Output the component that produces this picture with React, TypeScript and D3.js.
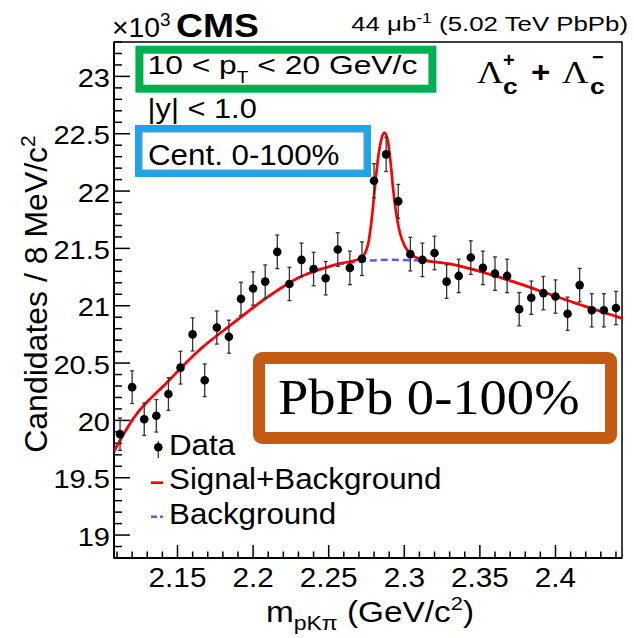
import React from "react";
import * as d3 from "d3";

// bin centres (GeV/c^2), 8 MeV bins
const massBins = [
  2.112, 2.12, 2.128, 2.136, 2.144, 2.152, 2.16, 2.168, 2.176, 2.184,
  2.192, 2.2, 2.208, 2.216, 2.224, 2.232, 2.24, 2.248, 2.256, 2.264,
  2.272, 2.28, 2.288, 2.296, 2.304, 2.312, 2.32, 2.328, 2.336, 2.344,
  2.352, 2.36, 2.368, 2.376, 2.384, 2.392, 2.4, 2.408, 2.416, 2.424,
  2.432, 2.44,
];
// candidates per bin, x10^3
const candidates = [
  19.88, 20.29, 20.01, 20.04, 20.23, 20.46, 20.75, 20.35, 20.81, 20.73,
  21.06, 21.15, 21.21, 21.47, 21.19, 21.4, 21.32, 21.24, 21.49, 21.33,
  21.41, 22.09, 22.32, 21.91, 21.45, 21.4, 21.46, 21.21, 21.26, 21.42,
  21.33, 21.28, 21.26, 20.97, 21.07, 21.11, 21.08, 20.93, 21.18, 20.96,
  20.96, 20.98,
];

// fit curves
const sbMass = [
  2.108, 2.121, 2.143, 2.165, 2.187, 2.209, 2.231, 2.25, 2.2575, 2.2645,
  2.2707, 2.274, 2.2762, 2.2784, 2.2806, 2.2828, 2.285, 2.2868, 2.289, 2.291,
  2.2927, 2.295, 2.2972, 2.3005, 2.3049, 2.3126, 2.33, 2.35, 2.372, 2.394,
  2.416, 2.444,
];
const sbFit = [
  19.73, 20.02, 20.33, 20.62, 20.85, 21.07, 21.25, 21.34, 21.37, 21.385,
  21.414, 21.457, 21.544, 21.748, 22.038, 22.3, 22.46, 22.509, 22.445, 22.242,
  22.009, 21.776, 21.632, 21.515, 21.442, 21.4, 21.365, 21.3, 21.21, 21.11,
  21.01, 20.89,
];
const bgMass = [
  2.108, 2.121, 2.143, 2.165, 2.187, 2.209, 2.231, 2.25, 2.27, 2.29,
  2.31, 2.33, 2.35, 2.372, 2.394, 2.416, 2.444,
];
const bgFit = [
  19.73, 20.02, 20.33, 20.62, 20.85, 21.07, 21.25, 21.34, 21.385, 21.4,
  21.395, 21.365, 21.3, 21.21, 21.11, 21.01, 20.89,
];

const xTicks = [2.15, 2.2, 2.25, 2.3, 2.35, 2.4];
const yTicks = [19, 19.5, 20, 20.5, 21, 21.5, 22, 22.5, 23];

const W = 634;
const H = 638;
const left = 114;
const right = 622;
const top = 42;
const bottom = 558;
const font = "'Liberation Sans', Arial, Helvetica, sans-serif";
const serif = "'Liberation Serif', 'DejaVu Serif', serif";

// text stretched horizontally like the original canvas
const T = ({ x, y, size, sx = 1, anchor = "start", weight, family, children }: any) => (
  <g transform={`translate(${x},${y}) scale(${sx},1)`}>
    <text x={0} y={0} fontSize={size} textAnchor={anchor} fontWeight={weight} fontFamily={family}>
      {children}
    </text>
  </g>
);

const App = () => {
  const x = d3.scaleLinear().domain([2.108, 2.444]).range([left, right]);
  const y = d3.scaleLinear().domain([18.8, 23.3]).range([bottom, top]);

  const xMinor = d3.range(2.11, 2.4441, 0.01).filter(
    (v) => !xTicks.some((t) => Math.abs(t - v) < 1e-6)
  );
  const yMinor = d3.range(18.9, 23.3, 0.1).filter(
    (v) => !yTicks.some((t) => Math.abs(t - v) < 1e-6)
  );

  const line = d3
    .line<[number, number]>()
    .x((d) => x(d[0]))
    .y((d) => y(d[1]))
    .curve(d3.curveMonotoneX);

  const sbPath = line(sbMass.map((m, i) => [m, sbFit[i]]));
  const bgPath = line(bgMass.map((m, i) => [m, bgFit[i]]));
  const fmt = d3.format("~g");

  const points = massBins.map((m, i) => {
    const v = candidates[i];
    const err = Math.sqrt(v * 1000) / 1000;
    return { m, v, lo: v - err, hi: v + err };
  });

  return (
    <svg
      width={W}
      height={H}
      style={{ position: "absolute", left: 0, top: 0, background: "#fff" }}
      fontFamily={font}
    >
      <defs>
        <clipPath id="frame">
          <rect x={left} y={top} width={right - left} height={bottom - top} />
        </clipPath>
      </defs>

      {/* frame */}
      <rect
        x={left}
        y={top}
        width={right - left}
        height={bottom - top}
        fill="none"
        stroke="#000"
        strokeWidth={1.5}
      />
      <line x1={left} x2={left} y1={top} y2={bottom} stroke="#000" strokeWidth={2} />
      <line x1={left} x2={right} y1={bottom} y2={bottom} stroke="#000" strokeWidth={2} />

      {/* y ticks */}
      {yTicks.map((t) => (
        <g key={"y" + t}>
          <line x1={left} x2={left + 16} y1={y(t)} y2={y(t)} stroke="#000" strokeWidth={1.5} />
          <T x={left - 4} y={y(t) + 10.5} size={25.5} sx={1.14} anchor="end">
            {fmt(t)}
          </T>
        </g>
      ))}
      {yMinor.map((t) => (
        <line key={"ym" + t} x1={left} x2={left + 8} y1={y(t)} y2={y(t)} stroke="#000" strokeWidth={1.5} />
      ))}

      {/* x ticks */}
      {xTicks.map((t) => (
        <g key={"x" + t}>
          <line x1={x(t)} x2={x(t)} y1={bottom} y2={bottom - 13} stroke="#000" strokeWidth={1.5} />
          <T x={x(t)} y={587} size={27} sx={1.1} anchor="middle">
            {fmt(t)}
          </T>
        </g>
      ))}
      {xMinor.map((t) => (
        <line key={"xm" + t} x1={x(t)} x2={x(t)} y1={bottom} y2={bottom - 6.5} stroke="#000" strokeWidth={1.5} />
      ))}

      {/* axis titles */}
      <T x={(left + right) / 2 + 2} y={622} size={29} sx={1.15} anchor="middle">
        m
        <tspan fontSize={20} dy={8}>pKπ</tspan>
        <tspan dy={-8}> (GeV/c</tspan>
        <tspan fontSize={19} dy={-12}>2</tspan>
        <tspan dy={12}>)</tspan>
      </T>
      <text
        transform={`translate(47, ${(top + bottom) / 2 - 6}) rotate(-90)`}
        textAnchor="middle"
        fontSize={32}
      >
        Candidates / 8 MeV/c
        <tspan fontSize={21} dy={-12}>2</tspan>
      </text>

      {/* header */}
      <T x={112} y={37} size={27} sx={1.05}>
        ×10<tspan fontSize={18} dy={-11}>3</tspan>
      </T>
      <T x={176} y={37} size={33} sx={1.13} weight="bold">CMS</T>
      <T x={628} y={31} size={20.5} sx={1.26} anchor="end">
        44 μb<tspan fontSize={14} dy={-8}>-1</tspan>
        <tspan dy={8}> (5.02 TeV PbPb)</tspan>
      </T>

      {/* fits */}
      <g clipPath="url(#frame)">
        <path d={bgPath ?? ""} fill="none" stroke="#5b5be6" strokeWidth={2.5} strokeDasharray="7,4" />
        <path d={sbPath ?? ""} fill="none" stroke="#ff0000" strokeWidth={2.7} />
      </g>

      {/* data */}
      {points.map((p) => (
        <g key={"p" + p.m}>
          <line x1={x(p.m)} x2={x(p.m)} y1={y(p.lo)} y2={y(p.hi)} stroke="#333" strokeWidth={1.3} />
          <line x1={x(p.m) - 2} x2={x(p.m) + 2} y1={y(p.lo)} y2={y(p.lo)} stroke="#333" strokeWidth={1.3} />
          <line x1={x(p.m) - 2} x2={x(p.m) + 2} y1={y(p.hi)} y2={y(p.hi)} stroke="#333" strokeWidth={1.3} />
          <circle cx={x(p.m)} cy={y(p.v)} r={4.3} fill="#000" />
        </g>
      ))}

      {/* boxes */}
      <rect x={139.4} y={49.7} width={293} height={39} fill="none" stroke="#00b050" strokeWidth={8} />
      <T x={147.5} y={74} size={26.5} sx={1.2}>
        10 &lt; p<tspan fontSize={16} dy={9}>T</tspan>
        <tspan dy={-9}> &lt; 20 GeV/c</tspan>
      </T>
      <T x={147.5} y={118.3} size={28} sx={1.1}>|y| &lt; 1.0</T>
      <rect x={138.5} y={128.5} width={229} height={45} fill="none" stroke="#1ea5e9" strokeWidth={7} />
      <rect x={142} y={132} width={222} height={38} fill="none" stroke="#6e9cc8" strokeWidth={1.2} />
      <T x={148} y={165} size={29} sx={1.08}>Cent. 0-100%</T>

      {/* Lambda_c^+ + Lambda_c^- */}
      <T x={477} y={83} size={31} sx={1.18} family={serif}>Λ</T>
      <T x={503} y={94} size={22} sx={1.2} weight="bold">c</T>
      <T x={503} y={67} size={20} weight="bold">+</T>
      <T x={531} y={82} size={30} sx={1.1} weight="bold">+</T>
      <T x={562} y={83} size={31} sx={1.18} family={serif}>Λ</T>
      <T x={590} y={94} size={22} sx={1.2} weight="bold">c</T>
      <T x={592} y={64} size={20} weight="bold">−</T>

      <rect x={259} y={358} width={352} height={80} rx={3} fill="#fff" stroke="#c55a11" strokeWidth={12} />
      <T x={278} y={414} size={51} sx={1.07} family={serif}>
        PbPb 0-100%
      </T>

      {/* legend */}
      <line x1={158.3} x2={158.3} y1={441} y2={458} stroke="#333" strokeWidth={1.3} />
      <circle cx={158.3} cy={447.3} r={4.3} fill="#000" />
      <T x={169} y={455} size={29} sx={1.08}>Data</T>
      <line x1={151} x2={163} y1={482.7} y2={482.7} stroke="#ff0000" strokeWidth={2.7} />
      <T x={169} y={489} size={29} sx={1.08}>Signal+Background</T>
      <line x1={151} x2={163} y1={516.7} y2={516.7} stroke="#5b5be6" strokeWidth={2.5} strokeDasharray="6,3" />
      <T x={169} y={524} size={29} sx={1.08}>Background</T>
    </svg>
  );
};

export default App;
